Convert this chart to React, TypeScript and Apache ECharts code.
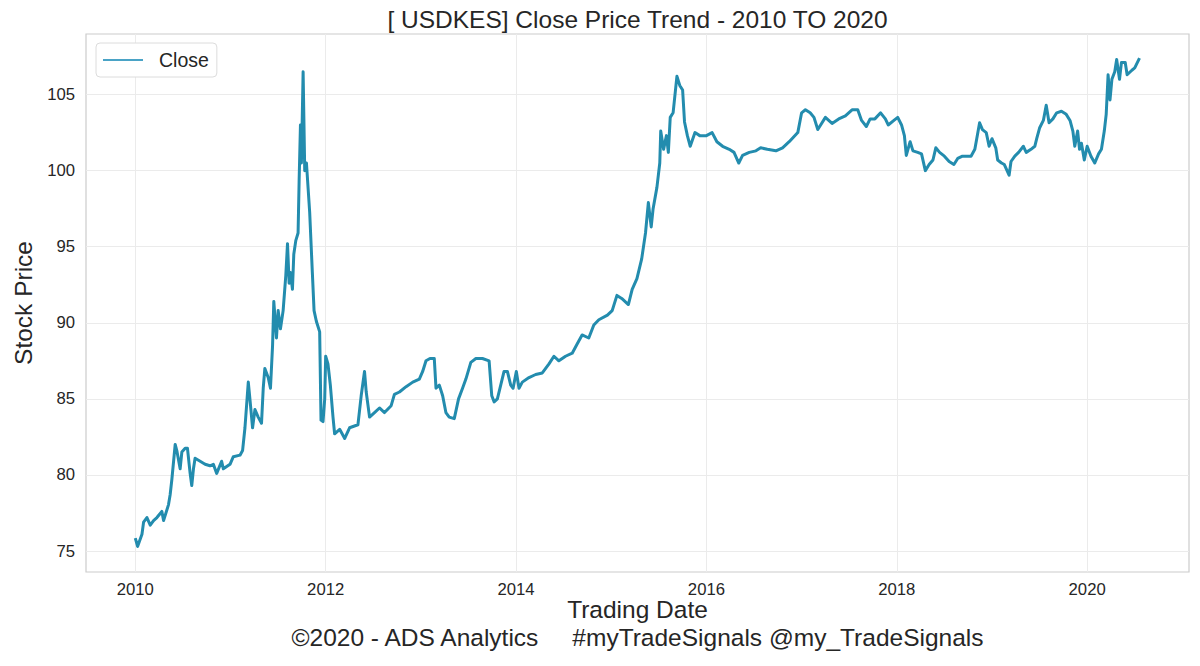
import React, { useEffect, useRef } from 'react';
import * as echarts from 'echarts';

// Trading dates expressed as decimal years
const tradingYears: number[] = [
  2010.0, 2010.024, 2010.07, 2010.087, 2010.122, 2010.157, 2010.192, 2010.227, 2010.279, 2010.297,
  2010.349, 2010.366, 2010.384, 2010.419, 2010.436, 2010.471, 2010.489, 2010.524, 2010.548, 2010.576,
  2010.593, 2010.611, 2010.628, 2010.681, 2010.733, 2010.785, 2010.82, 2010.855, 2010.907, 2010.925,
  2010.995, 2011.03, 2011.1, 2011.127, 2011.152, 2011.187, 2011.204, 2011.232, 2011.257, 2011.291,
  2011.326, 2011.344, 2011.361, 2011.396, 2011.42, 2011.442, 2011.455, 2011.483, 2011.501, 2011.525,
  2011.553, 2011.581, 2011.599, 2011.616, 2011.63, 2011.651, 2011.665, 2011.686, 2011.71, 2011.721,
  2011.735, 2011.745, 2011.763, 2011.78, 2011.798, 2011.832, 2011.86, 2011.878, 2011.902, 2011.937,
  2011.951, 2011.972, 2011.99, 2012.0, 2012.024, 2012.049, 2012.077, 2012.094, 2012.147, 2012.2,
  2012.251, 2012.339, 2012.373, 2012.408, 2012.426, 2012.461, 2012.513, 2012.565, 2012.618, 2012.688,
  2012.722, 2012.775, 2012.845, 2012.915, 2012.984, 2013.019, 2013.054, 2013.096, 2013.141, 2013.159,
  2013.194, 2013.229, 2013.263, 2013.298, 2013.351, 2013.396, 2013.438, 2013.473, 2013.525, 2013.578,
  2013.647, 2013.717, 2013.745, 2013.77, 2013.804, 2013.839, 2013.874, 2013.909, 2013.944, 2013.969,
  2014.003, 2014.031, 2014.066, 2014.136, 2014.206, 2014.276, 2014.346, 2014.398, 2014.45, 2014.52,
  2014.59, 2014.642, 2014.694, 2014.764, 2014.817, 2014.87, 2014.96, 2015.01, 2015.06, 2015.11,
  2015.18, 2015.22, 2015.27, 2015.32, 2015.36, 2015.39, 2015.42, 2015.44, 2015.48, 2015.51,
  2015.52, 2015.55, 2015.58, 2015.6, 2015.62, 2015.65, 2015.69, 2015.72, 2015.75, 2015.77,
  2015.8, 2015.83, 2015.88, 2015.93, 2016.0, 2016.06, 2016.11, 2016.17, 2016.24, 2016.29,
  2016.34, 2016.38, 2016.45, 2016.52, 2016.57, 2016.64, 2016.73, 2016.8, 2016.87, 2016.96,
  2017.0, 2017.04, 2017.09, 2017.13, 2017.17, 2017.2, 2017.25, 2017.32, 2017.39, 2017.46,
  2017.53, 2017.59, 2017.63, 2017.68, 2017.72, 2017.77, 2017.83, 2017.88, 2017.91, 2017.97,
  2018.01, 2018.05, 2018.08, 2018.1, 2018.14, 2018.17, 2018.22, 2018.26, 2018.3, 2018.34,
  2018.38, 2018.41, 2018.45, 2018.5, 2018.55, 2018.6, 2018.64, 2018.69, 2018.78, 2018.82,
  2018.84, 2018.87, 2018.9, 2018.94, 2018.97, 2019.0, 2019.04, 2019.06, 2019.1, 2019.13,
  2019.18, 2019.2, 2019.24, 2019.28, 2019.33, 2019.36, 2019.41, 2019.45, 2019.47, 2019.5,
  2019.54, 2019.57, 2019.6, 2019.64, 2019.68, 2019.73, 2019.78, 2019.82, 2019.85, 2019.87,
  2019.9, 2019.92, 2019.94, 2019.97, 2020.0, 2020.04, 2020.08, 2020.12, 2020.15, 2020.18,
  2020.2, 2020.22, 2020.24, 2020.26, 2020.29, 2020.31, 2020.34, 2020.36, 2020.4, 2020.42,
  2020.47, 2020.5, 2020.55,
];

// Close prices (KES per USD)
const closePrices: number[] = [
  75.85, 75.3, 76.1, 76.9, 77.2, 76.7, 77.0, 77.2, 77.6, 77.0,
  78.05, 78.7, 79.7, 82.0, 81.6, 80.4, 81.5, 81.75, 81.75, 80.1,
  79.3, 80.4, 81.1, 80.9, 80.7, 80.6, 80.7, 80.1, 80.9, 80.4,
  80.7, 81.2, 81.3, 81.6, 83.1, 86.1, 85.0, 83.1, 84.3, 83.8,
  83.4, 85.7, 87.0, 86.4, 85.7, 88.5, 91.4, 89.0, 90.8, 89.6,
  90.8, 93.1, 95.2, 92.6, 93.3, 92.2, 94.5, 95.4, 95.9, 99.3,
  103.0, 100.5, 106.5, 100.0, 100.5, 97.25, 93.3, 90.8, 90.1, 89.4,
  83.6, 83.5, 85.0, 87.8, 87.3, 85.9, 83.8, 82.7, 83.0, 82.4,
  83.1, 83.3, 85.2, 86.8, 85.45, 83.8, 84.1, 84.4, 84.1, 84.55,
  85.3, 85.45, 85.8, 86.1, 86.3, 86.8, 87.5, 87.65, 87.65, 85.7,
  85.9, 85.2, 84.1, 83.8, 83.7, 85.0, 85.7, 86.3, 87.4, 87.65,
  87.65, 87.5, 85.2, 84.8, 85.0, 85.9, 86.8, 86.8, 85.9, 85.7,
  86.8, 85.7, 86.1, 86.4, 86.6, 86.7, 87.3, 87.8, 87.5, 87.8,
  88.0, 88.6, 89.2, 89.0, 89.85, 90.2, 90.5, 90.8, 91.8, 91.6,
  91.2, 92.2, 92.9, 94.2, 95.9, 97.9, 96.3, 97.5, 98.9, 100.5,
  102.6, 101.4, 102.3, 101.2, 103.5, 103.8, 106.2, 105.6, 105.3, 103.2,
  102.3, 101.6, 102.5, 102.3, 102.3, 102.5, 101.9, 101.6, 101.4, 101.2,
  100.5, 101.0, 101.2, 101.3, 101.5, 101.4, 101.3, 101.5, 101.9, 102.5,
  103.8, 104.0, 103.8, 103.5, 102.7, 103.0, 103.5, 103.1, 103.4, 103.6,
  104.0, 104.0, 103.3, 102.9, 103.4, 103.4, 103.8, 103.4, 103.0, 103.3,
  103.5, 103.0, 102.3, 101.0, 101.9, 101.3, 101.2, 101.1, 100.0, 100.4,
  100.7, 101.5, 101.2, 100.95, 100.6, 100.4, 100.8, 100.95, 100.95, 101.4,
  102.1, 103.15, 102.7, 102.5, 101.6, 102.1, 101.5, 100.7, 100.5, 100.4,
  99.7, 100.6, 100.95, 101.2, 101.6, 101.2, 101.4, 101.6, 102.1, 102.8,
  103.3, 104.3, 103.15, 103.4, 103.8, 103.9, 103.7, 103.3, 102.6, 101.6,
  102.6, 101.4, 101.8, 100.7, 101.6, 100.95, 100.5, 101.1, 101.4, 102.6,
  103.7, 106.3, 104.65, 106.0, 106.5, 107.3, 106.0, 107.1, 107.1, 106.3,
  106.6, 106.75, 107.4,
];

const xTickYears: number[] = [2010, 2012, 2014, 2016, 2018, 2020];
const yTickValues: number[] = [75, 80, 85, 90, 95, 100, 105];

const seriesName = 'Close';
const titleText = '[ USDKES] Close Price Trend - 2010 TO 2020';
const xAxisTitle = 'Trading Date';
const yAxisTitle = 'Stock Price';
const footerText = '©2020 - ADS Analytics     #myTradeSignals @my_TradeSignals';

const FONT = '"Liberation Sans", Arial, Helvetica, sans-serif';
const TEXT_COLOR = '#262626';
const LINE_COLOR = '#238cae';

export default function App() {
  const ref = useRef<HTMLDivElement>(null);

  useEffect(() => {
    if (!ref.current) return;
    const chart = echarts.init(ref.current, null, { renderer: 'svg' });
    const data = tradingYears.map((t, i) => [t, closePrices[i]]);

    chart.setOption({
      animation: false,
      backgroundColor: '#ffffff',
      textStyle: { fontFamily: FONT },
      grid: {
        left: 86,
        right: 11,
        top: 34,
        bottom: 94,
        show: true,
        borderColor: '#cccccc',
        borderWidth: 1.2,
        backgroundColor: 'transparent',
      },
      legend: {
        left: 96,
        top: 43,
        data: [seriesName],
        icon: 'rect',
        itemWidth: 40,
        itemHeight: 2,
        padding: [7, 8, 7, 7],
        backgroundColor: '#ffffff',
        borderColor: '#dcdcdc',
        borderWidth: 1,
        borderRadius: 4,
        textStyle: {
          fontFamily: FONT,
          fontSize: 19.5,
          color: TEXT_COLOR,
          padding: [0, 0, 0, 11],
        },
        itemStyle: { color: '#4aa3c6' },
      },
      xAxis: {
        type: 'value',
        min: 2009.482,
        max: 2021.07,
        axisLine: { show: false },
        axisTick: { show: false, customValues: xTickYears },
        axisLabel: {
          customValues: xTickYears,
          fontFamily: FONT,
          fontSize: 16.7,
          color: TEXT_COLOR,
          margin: 9,
          formatter: (v: number) => String(Math.round(v)),
        },
        splitLine: { show: true, lineStyle: { color: '#ebebeb', width: 1 } },
      },
      yAxis: {
        type: 'value',
        min: 73.62,
        max: 108.98,
        name: yAxisTitle,
        nameLocation: 'middle',
        nameRotate: 90,
        nameGap: 50,
        nameTextStyle: { fontFamily: FONT, fontSize: 24.5, color: TEXT_COLOR },
        axisLine: { show: false },
        axisTick: { show: false, customValues: yTickValues },
        axisLabel: {
          customValues: yTickValues,
          fontFamily: FONT,
          fontSize: 16.7,
          color: TEXT_COLOR,
          margin: 11,
        },
        splitLine: { show: true, lineStyle: { color: '#ebebeb', width: 1 } },
      },
      graphic: [
        {
          type: 'text',
          x: 637.5,
          y: 19,
          style: {
            text: titleText,
            font: `24.5px ${FONT}`,
            fill: TEXT_COLOR,
            align: 'center',
            verticalAlign: 'middle',
          },
        },
        {
          type: 'text',
          x: 637.5,
          y: 609,
          style: {
            text: xAxisTitle,
            font: `24.5px ${FONT}`,
            fill: TEXT_COLOR,
            align: 'center',
            verticalAlign: 'middle',
          },
        },
        {
          type: 'text',
          x: 637.5,
          y: 637,
          style: {
            text: footerText,
            font: `24.5px ${FONT}`,
            fill: TEXT_COLOR,
            align: 'center',
            verticalAlign: 'middle',
          },
        },
      ],
      series: [
        {
          name: seriesName,
          type: 'line',
          data,
          showSymbol: false,
          symbol: 'none',
          lineStyle: { color: LINE_COLOR, width: 3, join: 'round' },
          itemStyle: { color: LINE_COLOR },
          z: 3,
        },
      ],
    });

    return () => chart.dispose();
  }, []);

  return (
    <div
      ref={ref}
      style={{ position: 'fixed', left: 0, top: 0, width: 1200, height: 666, background: '#fff' }}
    />
  );
}
